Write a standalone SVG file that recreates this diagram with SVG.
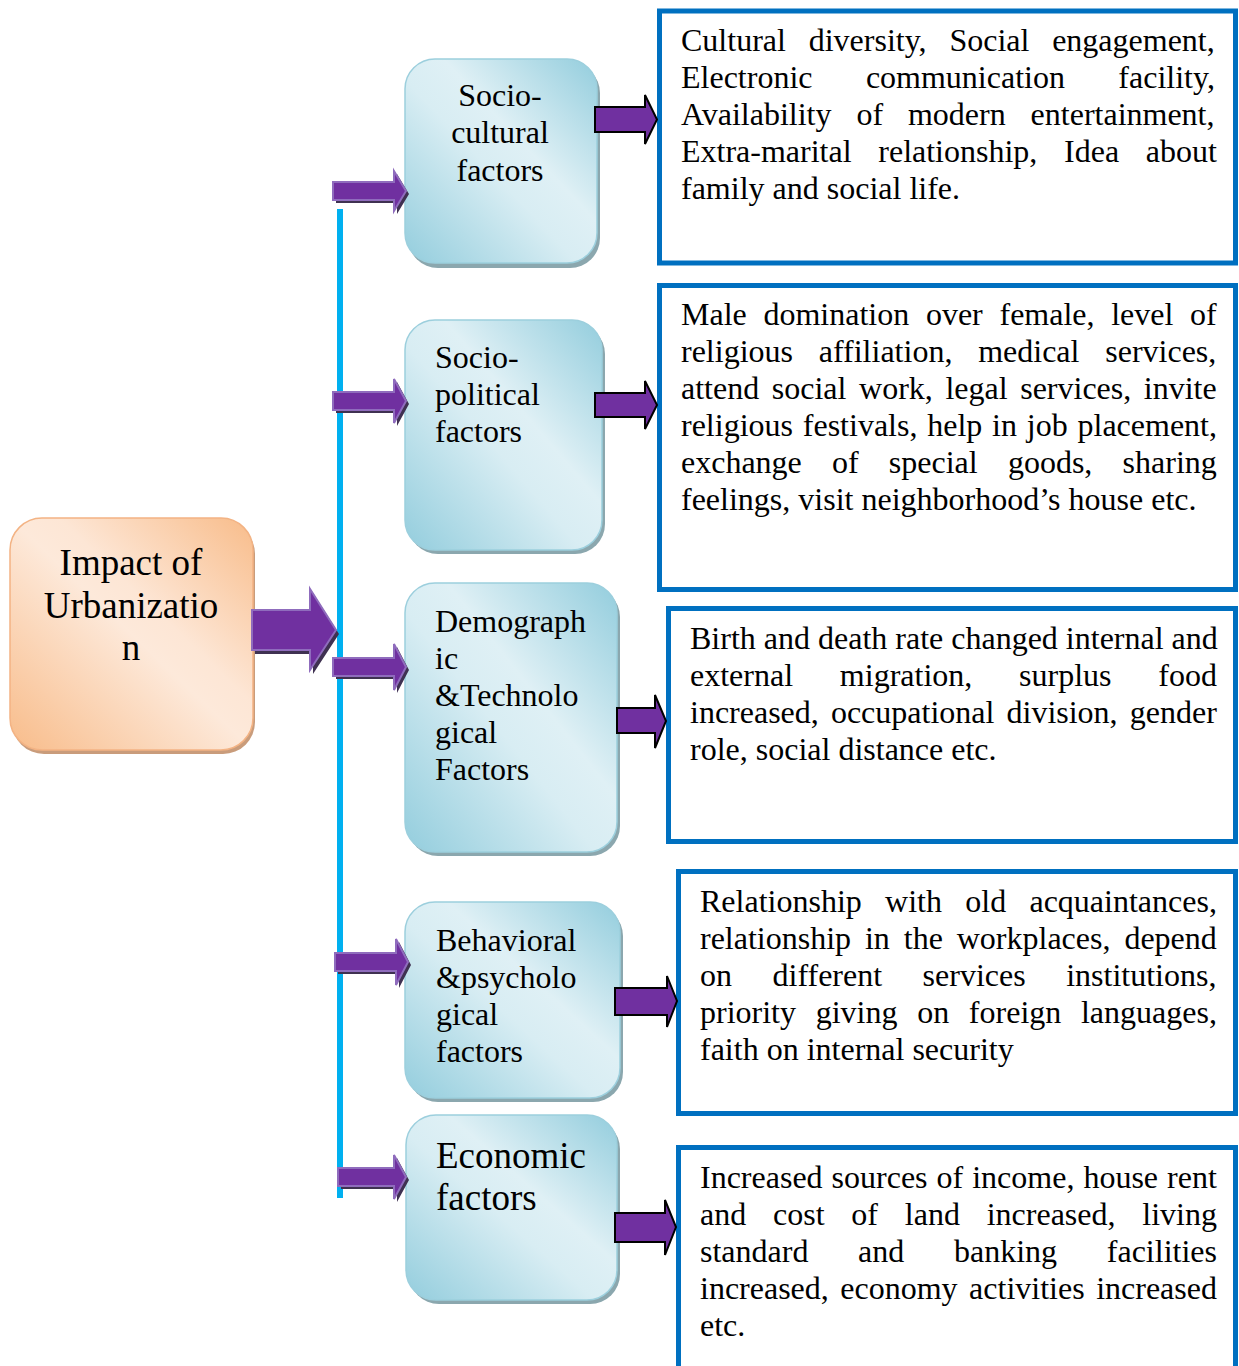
<svg xmlns="http://www.w3.org/2000/svg" width="1239" height="1366" viewBox="0 0 1239 1366">
<style>
text{font-family:"Liberation Serif","Times New Roman",serif;fill:#000}
.d{font-size:32px}
.f{font-size:32px}
.big{font-size:37px}
.tb{fill:#fff;stroke:#0070c0;stroke-width:5}
.fb{fill:url(#gBlue);stroke:#9ccfdd;stroke-width:1.5}
.fs{fill:#8ba7ae}
.la{fill:#7030a0;stroke:#8f6cbd;stroke-width:2}
.ls{fill:#3f3151}
.ra{fill:#7030a0;stroke:#000;stroke-width:2}
</style>
<defs>
<linearGradient id="gBlue" x1="0" y1="1" x2="1" y2="0">
<stop offset="0" stop-color="#93cddd"/>
<stop offset="0.45" stop-color="#d8edf3"/>
<stop offset="0.6" stop-color="#dff0f5"/>
<stop offset="1" stop-color="#93cddd"/>
</linearGradient>
<linearGradient id="gOrange" x1="0" y1="1" x2="1" y2="0">
<stop offset="0" stop-color="#f8bc8a"/>
<stop offset="0.5" stop-color="#fde9da"/>
<stop offset="0.6" stop-color="#fde6d5"/>
<stop offset="1" stop-color="#f8bc8a"/>
</linearGradient>
</defs>
<rect width="1239" height="1366" fill="#fff"/>

<g id="impact">
<rect x="12" y="522" width="243" height="232" rx="32" fill="#c99c7b"/>
<rect x="10" y="518" width="243" height="232" rx="32" fill="url(#gOrange)" stroke="#f3b384" stroke-width="1.5"/>
<text class="big" x="131" y="575" text-anchor="middle">Impact of</text>
<text class="big" x="131" y="618" text-anchor="middle">Urbanizatio</text>
<text class="big" x="131" y="660" text-anchor="middle">n</text>
</g>

<g id="socio-cultural">
<rect class="fs" x="408" y="63" width="192" height="205" rx="30"/>
<rect class="fb" x="405" y="59" width="192" height="204" rx="30"/>
<text class="f" x="500" y="106" text-anchor="middle">Socio-</text>
<text class="f" x="500" y="143" text-anchor="middle">cultural</text>
<text class="f" x="500" y="181" text-anchor="middle">factors</text>
</g>

<g id="socio-political">
<rect class="fs" x="408" y="324" width="197" height="230" rx="30"/>
<rect class="fb" x="405" y="320" width="197" height="230" rx="30"/>
<text class="f" x="435" y="368">Socio-</text>
<text class="f" x="435" y="405">political</text>
<text class="f" x="435" y="442">factors</text>
</g>

<g id="demographic">
<rect class="fs" x="408" y="587" width="212" height="269" rx="30"/>
<rect class="fb" x="405" y="583" width="212" height="269" rx="30"/>
<text class="f" x="435" y="632">Demograph</text>
<text class="f" x="435" y="669">ic</text>
<text class="f" x="435" y="706">&amp;Technolo</text>
<text class="f" x="435" y="743">gical</text>
<text class="f" x="435" y="780">Factors</text>
</g>

<g id="behavioral">
<rect class="fs" x="408" y="906" width="215" height="196" rx="30"/>
<rect class="fb" x="405" y="902" width="215" height="196" rx="30"/>
<text class="f" x="436" y="951">Behavioral</text>
<text class="f" x="436" y="988">&amp;psycholo</text>
<text class="f" x="436" y="1025">gical</text>
<text class="f" x="436" y="1062">factors</text>
</g>

<g id="economic">
<rect class="fs" x="409" y="1119" width="211" height="185" rx="30"/>
<rect class="fb" x="406" y="1115" width="211" height="185" rx="30"/>
<text class="big" x="436" y="1168">Economic</text>
<text class="big" x="436" y="1210">factors</text>
</g>

<g id="desc-socio-cultural">
<rect class="tb" x="659.5" y="11" width="576" height="252"/>
<text class="d" x="681" y="51" style="word-spacing:14.8px">Cultural diversity, Social engagement,</text>
<text class="d" x="681" y="88" style="word-spacing:45.4px">Electronic communication facility,</text>
<text class="d" x="681" y="125" style="word-spacing:16.9px">Availability of modern entertainment,</text>
<text class="d" x="681" y="162" style="word-spacing:18.7px">Extra-marital relationship, Idea about</text>
<text class="d" x="681" y="199">family and social life.</text>
</g>

<g id="desc-socio-political">
<rect class="tb" x="659.5" y="285.5" width="576" height="304"/>
<text class="d" x="681" y="325" style="word-spacing:8.7px">Male domination over female, level of</text>
<text class="d" x="681" y="362" style="word-spacing:17.8px">religious affiliation, medical services,</text>
<text class="d" x="681" y="399" style="word-spacing:4.6px">attend social work, legal services, invite</text>
<text class="d" x="681" y="436" style="word-spacing:1.8px">religious festivals, help in job placement,</text>
<text class="d" x="681" y="473" style="word-spacing:22.2px">exchange of special goods, sharing</text>
<text class="d" x="681" y="510">feelings, visit neighborhood’s house etc.</text>
</g>

<g id="desc-demographic">
<rect class="tb" x="668.5" y="608.5" width="567" height="233"/>
<text class="d" x="690" y="649">Birth and death rate changed internal and</text>
<text class="d" x="690" y="686" style="word-spacing:38.8px">external migration, surplus food</text>
<text class="d" x="690" y="723" style="word-spacing:4.1px">increased, occupational division, gender</text>
<text class="d" x="690" y="760">role, social distance etc.</text>
</g>

<g id="desc-behavioral">
<rect class="tb" x="678.5" y="871.5" width="557" height="242"/>
<text class="d" x="700" y="912" style="word-spacing:15.3px">Relationship with old acquaintances,</text>
<text class="d" x="700" y="949" style="word-spacing:5.9px">relationship in the workplaces, depend</text>
<text class="d" x="700" y="986" style="word-spacing:32.5px">on different services institutions,</text>
<text class="d" x="700" y="1023" style="word-spacing:11.7px">priority giving on foreign languages,</text>
<text class="d" x="700" y="1060">faith on internal security</text>
</g>

<g id="desc-economic">
<rect class="tb" x="678.5" y="1147.5" width="557" height="240"/>
<text class="d" x="700" y="1188" style="word-spacing:1px">Increased sources of income, house rent</text>
<text class="d" x="700" y="1225" style="word-spacing:18.8px">and cost of land increased, living</text>
<text class="d" x="700" y="1262" style="word-spacing:41.7px">standard and banking facilities</text>
<text class="d" x="700" y="1299" style="word-spacing:3.5px">increased, economy activities increased</text>
<text class="d" x="700" y="1336">etc.</text>
</g>

<g id="connectors">
<rect x="337" y="209" width="6" height="989" fill="#00b0f0"/>
<polygon class="ls" transform="translate(3,4)" points="252,610 310,610 310,589 336,630 310,670 310,650 252,650"/>
<polygon class="la" points="252,610 310,610 310,589 336,630 310,670 310,650 252,650"/>
<polygon class="ls" transform="translate(3,3)" points="333,182 394,182 394,171 406,191 394,211 394,200 333,200"/>
<polygon class="la" points="333,182 394,182 394,171 406,191 394,211 394,200 333,200"/>
<polygon class="ls" transform="translate(3,3)" points="333,392 394,392 394,379 406,401 394,423 394,410 333,410"/>
<polygon class="la" points="333,392 394,392 394,379 406,401 394,423 394,410 333,410"/>
<polygon class="ls" transform="translate(3,3)" points="333,658 394,658 394,644 406,667 394,690 394,676 333,676"/>
<polygon class="la" points="333,658 394,658 394,644 406,667 394,690 394,676 333,676"/>
<polygon class="ls" transform="translate(3,3)" points="335,953 396,953 396,939 408,962 396,985 396,971 335,971"/>
<polygon class="la" points="335,953 396,953 396,939 408,962 396,985 396,971 335,971"/>
<polygon class="ls" transform="translate(3,3)" points="338,1168 394,1168 394,1155 406,1177 394,1199 394,1186 338,1186"/>
<polygon class="la" points="338,1168 394,1168 394,1155 406,1177 394,1199 394,1186 338,1186"/>
<polygon class="ra" points="595,107 645,107 645,95 657,119.5 645,144 645,132 595,132"/>
<polygon class="ra" points="595,393 645,393 645,381 657,405 645,429 645,417 595,417"/>
<polygon class="ra" points="617,708 655,708 655,695 666,721 655,748 655,733 617,733"/>
<polygon class="ra" points="615,988 667,988 667,976 677,1001 667,1027 667,1015 615,1015"/>
<polygon class="ra" points="615,1213 665,1213 665,1200 676,1227 665,1255 665,1242 615,1242"/>
</g>
</svg>
